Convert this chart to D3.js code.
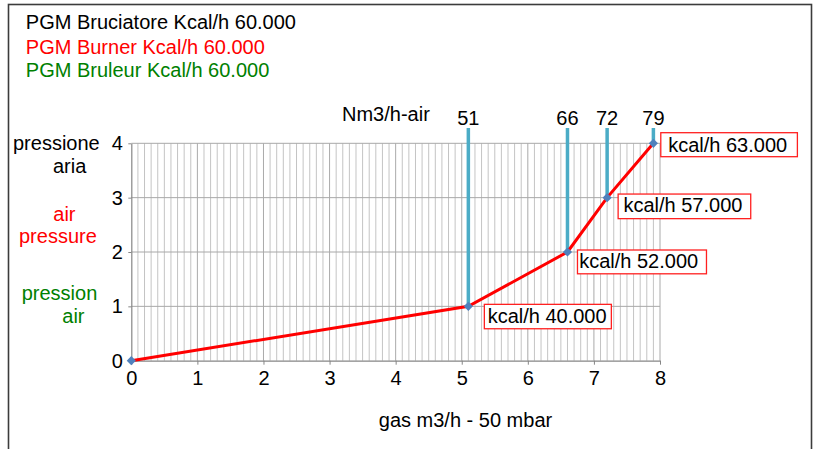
<!DOCTYPE html>
<html><head><meta charset="utf-8">
<script src="https://cdn.jsdelivr.net/npm/d3@7"></script>
<style>body{margin:0;background:#fff}svg{display:block;font-family:"Liberation Sans",Arial,sans-serif}</style>
</head><body><svg id="c" width="815" height="449"></svg>
<script>
// ---- data ----
const gasFlow = [0, 5.1, 6.6, 7.2, 7.9];
const airPressure = [0, 1, 2, 3, 4];
const airFlowLabels = [null, "51", "66", "72", "79"];
const powerLabels = [null, "kcal/h 40.000", "kcal/h 52.000", "kcal/h 57.000", "kcal/h 63.000"];
const xTicks = [0, 1, 2, 3, 4, 5, 6, 7, 8];
const yTicks = [0, 1, 2, 3, 4];
const titleLines = ["PGM Bruciatore Kcal/h 60.000", "PGM Burner Kcal/h 60.000", "PGM Bruleur Kcal/h 60.000"];
const yTitleLines = [["pressione", "aria"], ["air", "pressure"], ["pression", "air"]];
const xTitle = "gas m3/h - 50 mbar";
const topTitle = "Nm3/h-air";

// ---- layout / style ----
const langColors = ["#000000", "#ff0000", "#008000"];
const svg = d3.select("#c");
svg.append("rect").attr("width", 815).attr("height", 449).attr("fill", "#fff");
svg.append("rect").attr("x", 8.5).attr("y", 4.5).attr("width", 803).attr("height", 470)
  .attr("fill", "none").attr("stroke", "#3c3c3c").attr("stroke-width", 1.6);

const x = d3.scaleLinear().domain([0, 8]).range([131.3, 660]);
const y = d3.scaleLinear().domain([0, 4]).range([360.7, 143.3]);
const FS = 20;

// minor vertical grid
const minor = d3.range(1, 81).map(i => i / 10);
svg.append("g").selectAll("line").data(minor).join("line")
  .attr("x1", d => x(d)).attr("x2", d => x(d))
  .attr("y1", y(4)).attr("y2", y(0))
  .attr("stroke", d => Math.abs(d - Math.round(d)) < 1e-6 ? "#aaaaaa" : "#c4c4c4")
  .attr("stroke-width", 1);
// horizontal grid
svg.append("g").selectAll("line").data(yTicks.filter(d => d > 0)).join("line")
  .attr("x1", x(0)).attr("x2", x(8))
  .attr("y1", d => y(d)).attr("y2", d => y(d))
  .attr("stroke", "#a8a8a8").attr("stroke-width", 1);

// axes
const gx = svg.append("g").attr("transform", `translate(0,${y(0)})`)
  .call(d3.axisBottom(x).tickValues(xTicks).tickFormat(d3.format("d")).tickSize(4).tickPadding(6.6).tickSizeOuter(0));
const gy = svg.append("g").attr("transform", `translate(${x(0)},0)`)
  .call(d3.axisLeft(y).tickValues(yTicks).tickFormat(d3.format("d")).tickSize(3).tickPadding(5.5).tickSizeOuter(0));
[gx, gy].forEach(g => {
  g.select(".domain").attr("stroke", "#868686").attr("stroke-width", 1.2);
  g.selectAll(".tick line").attr("stroke", "#868686");
  g.selectAll(".tick text").attr("font-size", FS).attr("fill", "#000")
    .attr("font-family", '"Liberation Sans",Arial,sans-serif');
});

const pts = gasFlow.map((g, i) => ({ g, p: airPressure[i], air: airFlowLabels[i], pw: powerLabels[i] }));

// vertical air-flow lines
const lineTop = 128;
svg.append("g").selectAll("line").data(pts.filter(d => d.air)).join("line")
  .attr("x1", d => x(d.g)).attr("x2", d => x(d.g))
  .attr("y1", lineTop).attr("y2", d => y(d.p))
  .attr("stroke", "#4bacc6").attr("stroke-width", 3.5);
svg.append("g").selectAll("text").data(pts.filter(d => d.air)).join("text")
  .attr("x", d => x(d.g)).attr("y", 125).attr("text-anchor", "middle")
  .attr("font-size", FS).attr("fill", "#000").text(d => d.air);

// red curve
svg.append("path").datum(pts)
  .attr("d", d3.line().x(d => x(d.g)).y(d => y(d.p)))
  .attr("fill", "none").attr("stroke", "#ff0000").attr("stroke-width", 3);

// markers
svg.append("g").selectAll("path").data(pts).join("path")
  .attr("transform", d => `translate(${x(d.g)},${y(d.p)}) rotate(45)`)
  .attr("d", d3.symbol().type(d3.symbolSquare).size(42))
  .attr("fill", "#4f81bd");

// data label boxes
const boxLayout = [null,
  { bx: 16, by: -2, bw: 127, bh: 24.4, tx: 19.3, ty: 16.4 },
  { bx: 10, by: -2, bw: 129, bh: 23.8, tx: 11.7, ty: 15.6 },
  { bx: 11, by: -3.6, bw: 132.6, bh: 24.6, tx: 16.3, ty: 14.6 },
  { bx: 7.4, by: -10.6, bw: 136.6, bh: 24, tx: 14.8, ty: 8.4 }];
pts.forEach((d, i) => {
  if (!d.pw) return;
  const L = boxLayout[i], px = x(d.g), py = y(d.p);
  svg.append("rect").attr("x", px + L.bx).attr("y", py + L.by).attr("width", L.bw).attr("height", L.bh)
    .attr("fill", "#fff").attr("stroke", "#ff2020").attr("stroke-width", 1.3);
  svg.append("text").attr("x", px + L.tx).attr("y", py + L.ty)
    .attr("font-size", FS).attr("fill", "#000").text(d.pw);
});

// titles
const titleBase = [29.3, 54.3, 76.7];
titleLines.forEach((t, i) => svg.append("text").attr("x", 25.8).attr("y", titleBase[i])
  .attr("font-size", FS).attr("fill", langColors[i]).text(t));

const yTitlePos = [[[13, 150], [53, 172.5]], [[53.3, 220.7], [19, 243.3]], [[21.7, 299.7], [62.3, 322.5]]];
yTitleLines.forEach((lines, i) => lines.forEach((t, j) =>
  svg.append("text").attr("x", yTitlePos[i][j][0]).attr("y", yTitlePos[i][j][1])
    .attr("font-size", FS).attr("fill", langColors[i]).text(t)));

svg.append("text").attr("x", 342).attr("y", 120.5).attr("font-size", FS).attr("fill", "#000").text(topTitle);
svg.append("text").attr("x", 465.5).attr("y", 426.7).attr("text-anchor", "middle")
  .attr("font-size", FS).attr("fill", "#000").text(xTitle);
</script></body></html>
